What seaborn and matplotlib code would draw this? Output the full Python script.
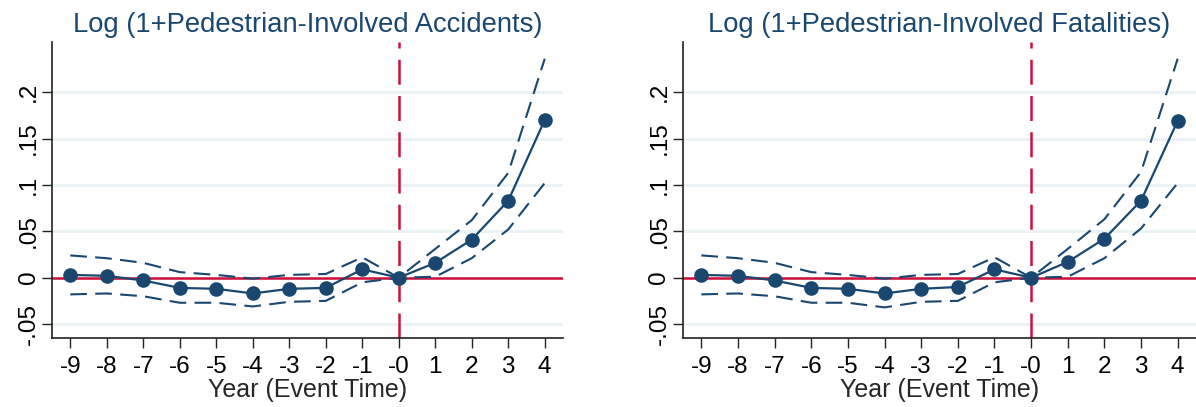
import matplotlib
matplotlib.use("Agg")
import matplotlib.pyplot as plt
import numpy as np
import pandas as pd
import seaborn as sns

# Event-study estimates with 95% confidence bounds
event_time = [-9, -8, -7, -6, -5, -4, -3, -2, -1, 0, 1, 2, 3, 4]
tick_labels = ["-9", "-8", "-7", "-6", "-5", "-4", "-3", "-2", "-1", "-0", "1", "2", "3", "4"]

acc_coef = [0.003, 0.002, -0.003, -0.011, -0.012, -0.017, -0.012, -0.011, 0.009, 0.0, 0.016, 0.041, 0.083, 0.170]
acc_upper = [0.024, 0.021, 0.016, 0.006, 0.003, -0.001, 0.003, 0.004, 0.022, 0.0, 0.031, 0.062, 0.113, 0.236]
acc_lower = [-0.018, -0.017, -0.020, -0.027, -0.027, -0.031, -0.026, -0.025, -0.005, 0.0, 0.001, 0.021, 0.052, 0.102]

fat_coef = [0.003, 0.002, -0.003, -0.011, -0.012, -0.017, -0.012, -0.010, 0.009, 0.0, 0.017, 0.042, 0.083, 0.169]
fat_upper = [0.024, 0.021, 0.016, 0.006, 0.003, -0.001, 0.003, 0.004, 0.022, 0.0, 0.031, 0.063, 0.114, 0.236]
fat_lower = [-0.018, -0.017, -0.020, -0.027, -0.027, -0.032, -0.026, -0.025, -0.005, 0.0, 0.001, 0.021, 0.053, 0.102]

titles = ["Log (1+Pedestrian-Involved Accidents)", "Log (1+Pedestrian-Involved Fatalities)"]
y_ticks = [-0.05, 0, 0.05, 0.1, 0.15, 0.2]
y_tick_labels = ["-.05", "0", ".05", ".1", ".15", ".2"]

NAVY = "#1a476f"
RED = "#d0103a"
GRID = "#eaf2f3"

sns.set_theme(style="white")
plt.rcParams["font.family"] = ["Liberation Sans", "DejaVu Sans"]

fig = plt.figure(figsize=(11.96, 4.07), dpi=100)
axes = [
    fig.add_axes([52 / 1196, 69 / 407, 511 / 1196, 296 / 407]),
    fig.add_axes([683 / 1196, 69 / 407, 513 / 1196, 296 / 407]),
]

panels = [
    (acc_coef, acc_upper, acc_lower),
    (fat_coef, fat_upper, fat_lower),
]

for ax, title, (coef, upper, lower) in zip(axes, titles, panels):
    df = pd.DataFrame({"t": event_time, "coef": coef, "upper": upper, "lower": lower})

    for yv in y_ticks:
        ax.axhline(yv, color=GRID, lw=2.0, zorder=0)
    ax.axhline(0, color=RED, lw=1.8, zorder=1)
    ax.axvline(0, color=RED, lw=1.8, dashes=(10, 4.5), zorder=1)

    for col in ["upper", "lower"]:
        sns.lineplot(data=df, x="t", y=col, ax=ax, color=NAVY, lw=1.5,
                     dashes=False, zorder=2).lines[-1].set_dashes((8, 4))
    sns.lineplot(data=df, x="t", y="coef", ax=ax, color=NAVY, lw=1.6,
                 marker="o", markersize=10.5, markeredgewidth=0, zorder=3)

    ax.set_xlim(-9.5, 4.5)
    ax.set_ylim(-0.065, 0.254)
    ax.set_xticks(event_time)
    ax.set_xticklabels(tick_labels, fontsize=17.5)
    ax.set_yticks(y_ticks)
    ax.set_yticklabels(y_tick_labels, fontsize=17.5, rotation=90, va="center")
    ax.set_xlabel("Year (Event Time)", fontsize=18, labelpad=0)
    ax.set_ylabel("")
    ax.set_title(title, fontsize=19.7, color=NAVY, pad=7)

    ax.tick_params(axis="both", which="major", direction="out", length=7,
                   width=1.0, color="#222222", labelcolor="black")
    ax.tick_params(axis="x", bottom=True, pad=6)
    ax.tick_params(axis="y", left=True, pad=2)
    for side in ["top", "right"]:
        ax.spines[side].set_visible(False)
    for side in ["left", "bottom"]:
        ax.spines[side].set_color("#222222")
        ax.spines[side].set_linewidth(1.2)
    ax.grid(False)

fig.savefig("out.png", dpi=100)
